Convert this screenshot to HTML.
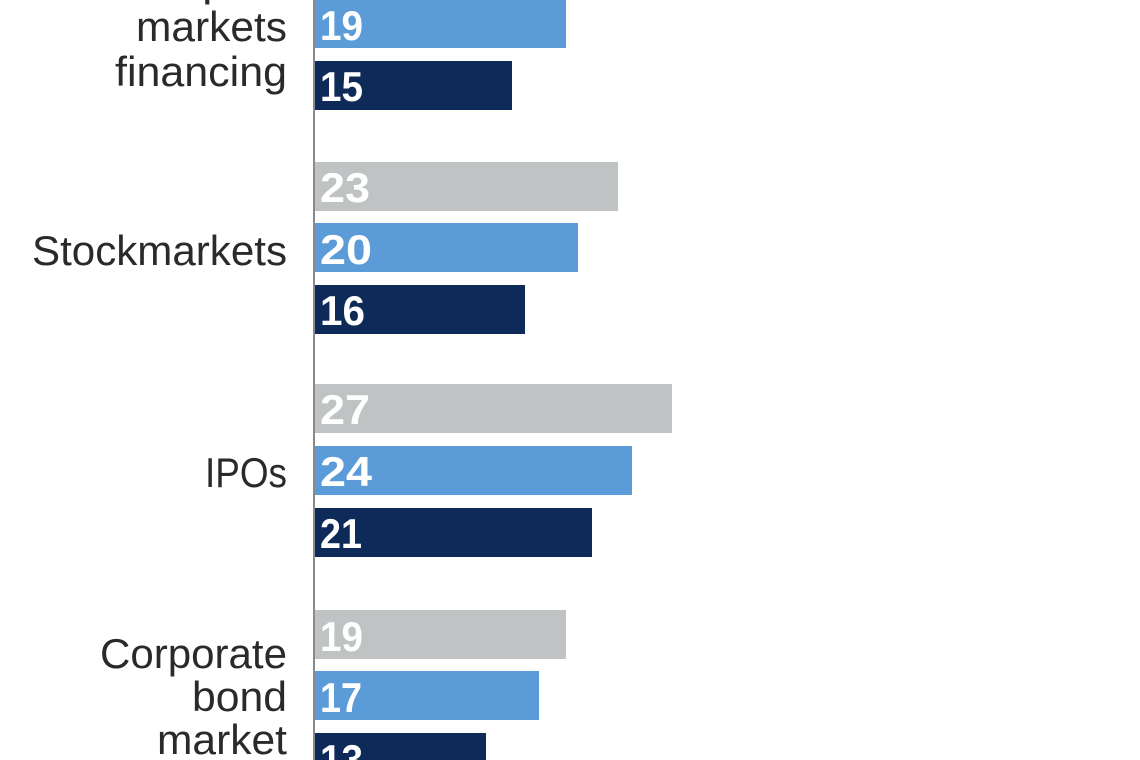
<!DOCTYPE html>
<html><head><meta charset="utf-8"><style>
html,body{margin:0;padding:0;background:#fff;}
svg{display:block;}
.l{font-family:"Liberation Sans Narrow","Liberation Sans",sans-serif;font-size:42px;fill:#2a2a2a;}
.n{font-family:"Liberation Sans Narrow","Liberation Sans",sans-serif;font-size:42px;font-weight:bold;fill:#fff;}
</style></head><body>
<svg width="1140" height="760" viewBox="0 0 1140 760">
<rect x="315" y="-61" width="251" height="49" fill="#bfc3c3"/>
<rect x="315" y="0" width="251" height="48" fill="#5b9bd8"/>
<rect x="315" y="61" width="197" height="49" fill="#0e2a58"/>
<rect x="315" y="162" width="303" height="49" fill="#bfc3c3"/>
<rect x="315" y="223" width="263" height="49" fill="#5b9bd8"/>
<rect x="315" y="285" width="210" height="49" fill="#0e2a58"/>
<rect x="315" y="384" width="357" height="49" fill="#bfc3c3"/>
<rect x="315" y="446" width="317" height="49" fill="#5b9bd8"/>
<rect x="315" y="508" width="277" height="49" fill="#0e2a58"/>
<rect x="315" y="610" width="251" height="49" fill="#bfc3c3"/>
<rect x="315" y="671" width="224" height="49" fill="#5b9bd8"/>
<rect x="315" y="733" width="171" height="49" fill="#0e2a58"/>
<line x1="314" y1="0" x2="314" y2="760" stroke="#8a8a8a" stroke-width="2"/>
<g class="n">
<text x="320" y="40" textLength="43" lengthAdjust="spacingAndGlyphs">19</text>
<text x="320" y="101" textLength="43" lengthAdjust="spacingAndGlyphs">15</text>
<text x="320" y="202" textLength="50" lengthAdjust="spacingAndGlyphs">23</text>
<text x="320" y="264" textLength="52" lengthAdjust="spacingAndGlyphs">20</text>
<text x="320" y="325" textLength="45" lengthAdjust="spacingAndGlyphs">16</text>
<text x="320" y="424" textLength="50" lengthAdjust="spacingAndGlyphs">27</text>
<text x="320" y="486" textLength="52" lengthAdjust="spacingAndGlyphs">24</text>
<text x="320" y="548" textLength="42" lengthAdjust="spacingAndGlyphs">21</text>
<text x="320" y="651" textLength="43" lengthAdjust="spacingAndGlyphs">19</text>
<text x="320" y="712" textLength="42" lengthAdjust="spacingAndGlyphs">17</text>
<text x="320" y="774" textLength="43" lengthAdjust="spacingAndGlyphs">13</text>
</g>
<g class="l">
<text x="143" y="-4" textLength="144" lengthAdjust="spacingAndGlyphs">Capital</text>
<text x="136" y="41" textLength="151" lengthAdjust="spacingAndGlyphs">markets</text>
<text x="115" y="86" textLength="172" lengthAdjust="spacingAndGlyphs">financing</text>
<text x="32" y="265" textLength="255" lengthAdjust="spacingAndGlyphs">Stockmarkets</text>
<text x="205" y="487" textLength="82" lengthAdjust="spacingAndGlyphs">IPOs</text>
<text x="100" y="668" textLength="187" lengthAdjust="spacingAndGlyphs">Corporate</text>
<text x="192" y="711" textLength="95" lengthAdjust="spacingAndGlyphs">bond</text>
<text x="157" y="754" textLength="130" lengthAdjust="spacingAndGlyphs">market</text>
</g>
</svg>
</body></html>
